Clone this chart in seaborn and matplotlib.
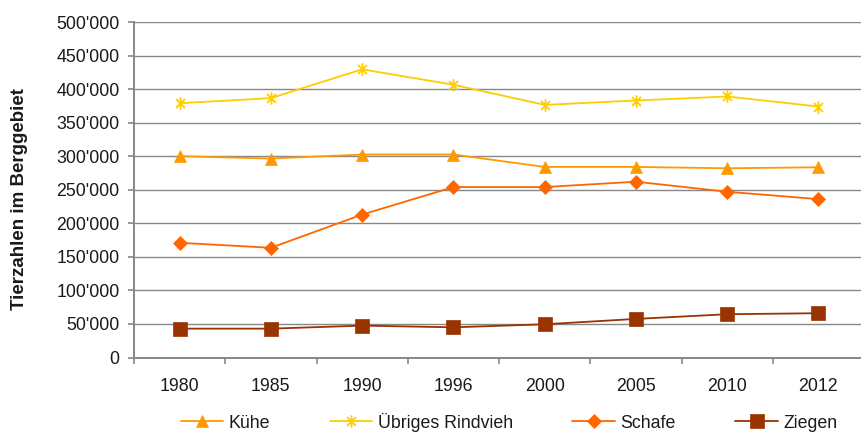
import numpy as np
import pandas as pd
import matplotlib
matplotlib.use("Agg")
import matplotlib.pyplot as plt
from matplotlib.path import Path
from matplotlib.ticker import FuncFormatter, FixedLocator
import seaborn as sns

# Tierbestand im Berggebiet nach Jahr
jahre = ["1980", "1985", "1990", "1996", "2000", "2005", "2010", "2012"]
kuehe = [300000, 296500, 302500, 302500, 284000, 284000, 282000, 283500]
uebriges_rindvieh = [379000, 386500, 429500, 406500, 376500, 383000, 389000, 374000]
schafe = [171000, 163500, 213000, 254000, 254000, 262000, 247000, 236000]
ziegen = [43000, 43000, 47500, 45000, 49500, 57500, 64500, 66000]

namen = ["Kühe", "Übriges Rindvieh", "Schafe", "Ziegen"]
y_ticks = [0, 50000, 100000, 150000, 200000, 250000, 300000, 350000, 400000, 450000, 500000]

sns.set_theme(style="white")
plt.rcParams["font.family"] = ["Liberation Sans", "DejaVu Sans"]
plt.rcParams["text.color"] = "#1a1a1a"

# Asterisk marker: vertical bar plus two diagonals
stern = Path(
    [(0, -1), (0, 1), (-0.72, -0.72), (0.72, 0.72), (-0.72, 0.72), (0.72, -0.72)],
    [Path.MOVETO, Path.LINETO, Path.MOVETO, Path.LINETO, Path.MOVETO, Path.LINETO],
)

stile = {
    "Kühe": dict(color="#FF9900", marker="^", ms=8.5),
    "Übriges Rindvieh": dict(color="#FFCC00", marker=stern, ms=9),
    "Schafe": dict(color="#FF6600", marker="D", ms=6.8),
    "Ziegen": dict(color="#993300", marker="s", ms=10.5),
}

df = pd.DataFrame({
    "Jahr": jahre * 4,
    "Anzahl": kuehe + uebriges_rindvieh + schafe + ziegen,
    "Tierart": np.repeat(namen, len(jahre)),
})

W, H = 861, 432
fig = plt.figure(figsize=(W / 100, H / 100), dpi=100)
ax = fig.add_axes([134 / W, 1 - 357.5 / H, 730 / W, 335.5 / H])

for name in namen:
    st = stile[name]
    sub = df[df["Tierart"] == name]
    sns.pointplot(data=sub, x="Jahr", y="Anzahl", order=jahre, color=st["color"],
                  markers=st["marker"], linestyles="-", errorbar=None, ax=ax,
                  label=name)
    ln = ax.lines[-1]
    ln.set_linewidth(1.3)
    ln.set_markersize(st["ms"])
    ln.set_markerfacecolor(st["color"])
    ln.set_markeredgecolor(st["color"])
    ln.set_markeredgewidth(1.3 if name == "Übriges Rindvieh" else 0.5)
    ln.set_zorder(3)

if ax.get_legend() is not None:
    ax.get_legend().remove()

ax.set_xlim(-0.5, len(jahre) - 0.5)
ax.set_ylim(0, 500000)
ax.set_yticks(y_ticks)
ax.yaxis.set_major_formatter(FuncFormatter(lambda v, p: f"{int(v):,}".replace(",", "'")))
ax.set_xlabel("")
ax.set_ylabel("")

ax.grid(axis="y", color="#888888", linewidth=1.0)
ax.set_axisbelow(True)
for side in ["top", "right"]:
    ax.spines[side].set_visible(False)
for side in ["left", "bottom"]:
    ax.spines[side].set_color("#888888")
    ax.spines[side].set_linewidth(1.4)

ax.xaxis.set_minor_locator(FixedLocator(np.arange(-0.5, len(jahre), 1.0)))
ax.tick_params(axis="x", which="major", length=0, pad=14.5, labelsize=12.8, labelcolor="#1a1a1a")
ax.tick_params(axis="x", which="minor", length=4.3, width=1.2, color="#888888", bottom=True)
ax.tick_params(axis="y", which="major", length=4.3, width=1.2, color="#888888", left=True,
               pad=6, labelsize=12.8, labelcolor="#1a1a1a")

fig.text(20 / W, 1 - 199 / H, "Tierzahlen im Berggebiet", rotation=90, ha="center",
         va="center", fontsize=13.5, fontweight="bold", color="#1a1a1a")

handles, labels = ax.get_legend_handles_labels()
fig.legend(handles, labels, loc="center", bbox_to_anchor=(509 / W, 1 - 422 / H), ncol=4,
           frameon=False, fontsize=12.8, handlelength=2.4, handletextpad=0.3,
           columnspacing=3.35, borderpad=0, borderaxespad=0)

fig.savefig("out.png", dpi=100, facecolor="white")
